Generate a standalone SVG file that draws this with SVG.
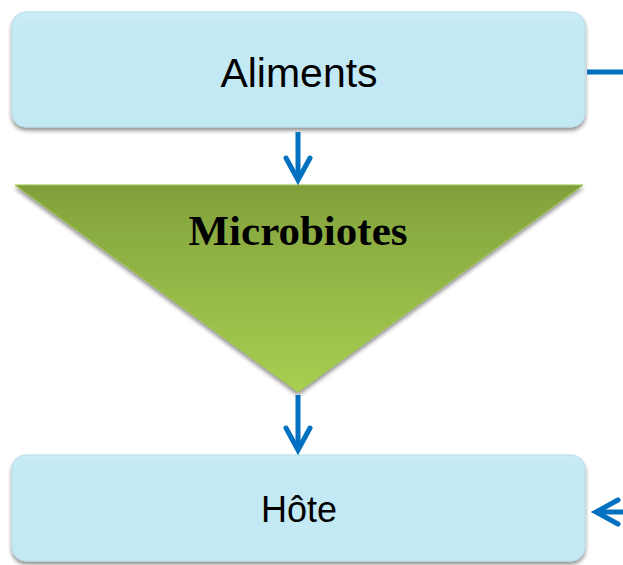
<svg xmlns="http://www.w3.org/2000/svg" width="623" height="565" viewBox="0 0 623 565">
<defs>
<linearGradient id="gTri" x1="0" y1="0" x2="0" y2="1">
<stop offset="0" stop-color="#7F9E3A"/>
<stop offset="0.1" stop-color="#86A63E"/>
<stop offset="1" stop-color="#A8CE52"/>
</linearGradient>
<linearGradient id="gBox" x1="0" y1="0" x2="0" y2="1">
<stop offset="0" stop-color="#CBEDF7"/>
<stop offset="0.15" stop-color="#C3E9F4"/>
<stop offset="1" stop-color="#C3E9F4"/>
</linearGradient>
<filter id="sh" x="-5%" y="-10%" width="110%" height="125%">
<feGaussianBlur in="SourceAlpha" stdDeviation="2"/>
<feOffset dx="0" dy="3"/>
<feComponentTransfer><feFuncA type="linear" slope="0.45"/></feComponentTransfer>
<feMerge><feMergeNode/><feMergeNode in="SourceGraphic"/></feMerge>
</filter>
</defs>
<style>
.box{fill:url(#gBox);stroke:#B5DDE9;stroke-width:1}
.lbl{font-family:"Liberation Sans","Open Sans",sans-serif;fill:#000;text-anchor:middle}
.tri{font-family:"Liberation Serif","Times New Roman",serif;font-size:43px;font-weight:bold;fill:#000;text-anchor:middle}
.ln{stroke:#0070C0;stroke-width:5;fill:none}
.hd{stroke:#0070C0;stroke-width:5;fill:none;stroke-linecap:round;stroke-linejoin:miter}
</style>
<g id="aliments">
<rect class="box" x="12" y="12" width="573" height="115" rx="14" filter="url(#sh)"/>
<text class="lbl" x="299" y="87" font-size="41">Aliments</text>
</g>
<g id="microbiotes">
<polygon points="15,185 583,185 298,392" fill="url(#gTri)" stroke="#9CC34C" stroke-width="1" filter="url(#sh)"/>
<text class="tri" x="298" y="245">Microbiotes</text>
</g>
<g id="hote">
<rect class="box" x="12" y="455" width="573" height="106" rx="14" filter="url(#sh)"/>
<text class="lbl" x="299" y="522" font-size="36">Hôte</text>
</g>
<g id="connectors">
<line class="ln" x1="298" y1="132" x2="298" y2="180"/>
<polyline class="hd" points="286,158 298,180 310,158"/>
<line class="ln" x1="298" y1="395" x2="298" y2="450"/>
<polyline class="hd" points="286,428 298,450 310,428"/>
<line class="ln" x1="587" y1="72" x2="623" y2="72"/>
<line class="ln" x1="596" y1="512" x2="623" y2="512"/>
<polyline class="hd" points="618,500 596,512 618,524"/>
</g>
</svg>
